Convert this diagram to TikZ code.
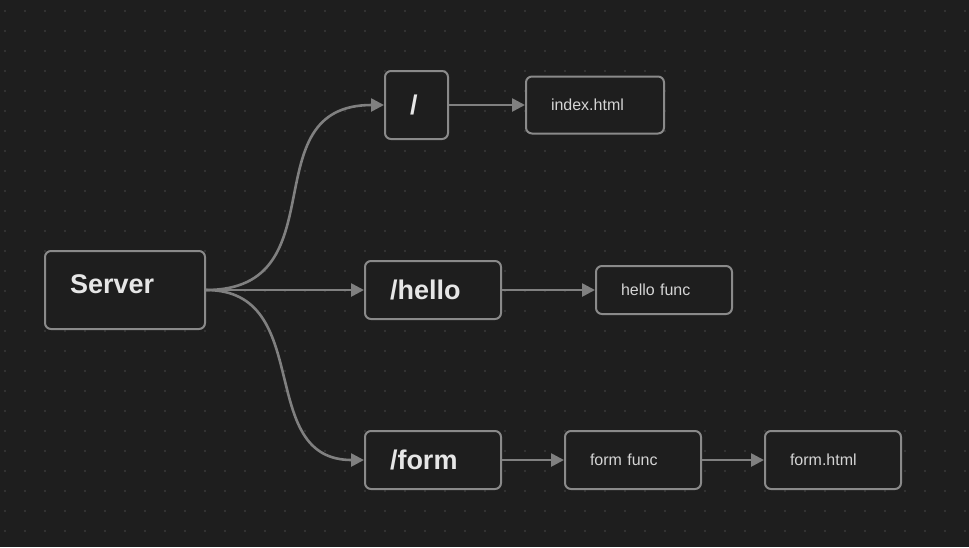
\documentclass[tikz,border=0pt]{standalone}
\usepackage{fontspec}
\setmainfont{Liberation Sans}
\usepackage{xcolor}
\usetikzlibrary{arrows.meta}
\definecolor{canvas}{HTML}{1E1E1E}
\definecolor{griddot}{HTML}{323232}
\definecolor{boxline}{HTML}{8A8A8A}
\definecolor{wire}{HTML}{808080}
\definecolor{label}{HTML}{E6E6E6}

\begin{document}
\begin{tikzpicture}[x=1pt, y=-1pt,
	box/.style={draw=boxline, line width=2pt, rounded corners=6pt, fill=canvas, text=label, inner xsep=25pt, inner ysep=0pt, align=left, text depth=0pt},
	route/.style={box, font=\fontsize{27}{30}\selectfont\bfseries, text height=19.5pt},
	target/.style={box, font=\fontsize{16}{18}\selectfont, text height=11.5pt, text=label!92!black},
	flow/.style={draw=wire, line width=2.6pt, -{Triangle[length=13pt, width=13pt]}}]
			% canvas with dot grid
			\fill[canvas] (0,0) rectangle (969,547);
			\useasboundingbox (0,0) rectangle (969,547);
			\foreach \i in {0,...,48}{
			\foreach \j in {0,...,26}
			{
				\fill[griddot] (4+20*\i, 10+20*\j) rectangle +(2,2);
			}}
			% boxes
			\node[route, text width=110pt, minimum height=78pt, text depth=12pt] (server) at (125,290) {Server};
			\node[route, text width=13pt, minimum height=68pt] (root) at (416.5,105) {/};
			\node[route, text width=86pt, minimum height=58pt] (hello) at (433,290) {/hello};
			\node[route, text width=86pt, minimum height=58pt] (form) at (433,460) {/form};
			\node[target, text width=88pt, minimum height=57pt] (index) at (595,105) {index.html};
			\node[target, text width=86pt, minimum height=48pt] (hellofunc) at (664,290) {hello func};
			\node[target, text width=86pt, minimum height=58pt] (formfunc) at (633,460) {form func};
			\node[target, text width=86pt, minimum height=58pt] (formhtml) at (833,460) {form.html};
			% connectors
			\draw[flow] (server.east) .. controls +(135,0) and +(-135,0) .. (root.west);
			\draw[flow] (server.east) -- (hello.west);
			\draw[flow] (server.east) .. controls +(110,0) and +(-110,0) .. (form.west);
			\draw[flow] (root.east) -- (index.west);
			\draw[flow] (hello.east) -- (hellofunc.west);
			\draw[flow] (form.east) -- (formfunc.west);
			\draw[flow] (formfunc.east) -- (formhtml.west);
		\end{tikzpicture}
\end{document}
